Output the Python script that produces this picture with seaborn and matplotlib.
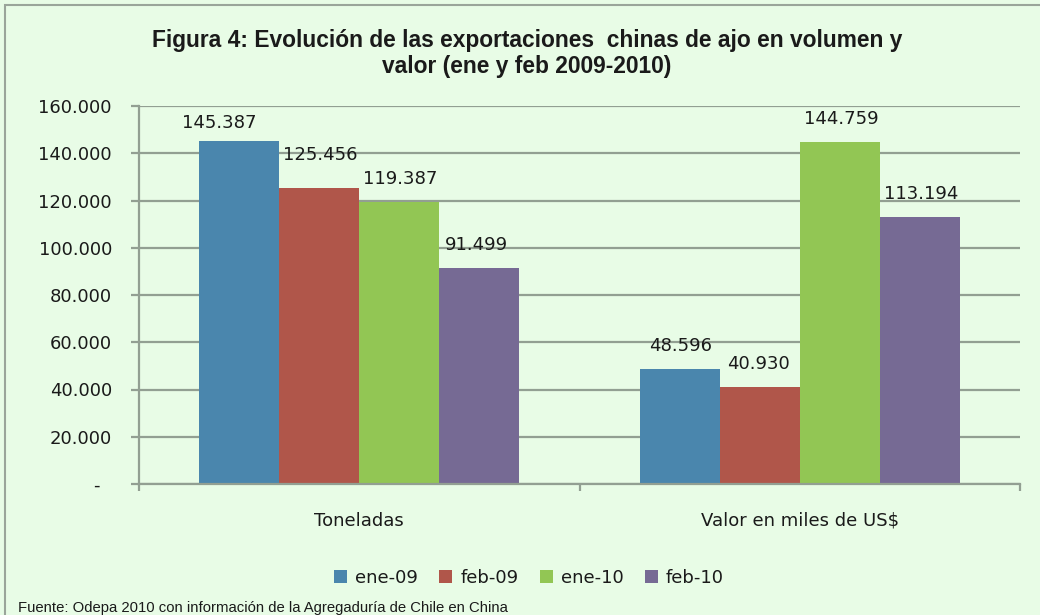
import matplotlib
matplotlib.use("Agg")
import matplotlib.pyplot as plt
import seaborn as sns
import pandas as pd
from matplotlib.patches import Rectangle
from matplotlib.ticker import FixedLocator

# ---- data ----
categories = ["Toneladas", "Valor en miles de US$"]
periods = ["ene-09", "feb-09", "ene-10", "feb-10"]
ene_09 = [145387, 48596]
feb_09 = [125456, 40930]
ene_10 = [119387, 144759]
feb_10 = [91499, 113194]
y_ticks = [0, 20000, 40000, 60000, 80000, 100000, 120000, 140000, 160000]

series = {"ene-09": ene_09, "feb-09": feb_09, "ene-10": ene_10, "feb-10": feb_10}
rows = []
for p in periods:
    for c, v in zip(categories, series[p]):
        rows.append({"cat": c, "periodo": p, "valor": v})
df = pd.DataFrame(rows)

colors = ["#4A86AD", "#B0564A", "#92C654", "#766A94"]
bg = "#E8FCE6"
gridc = "#929F92"

sns.set_theme(style="white")
plt.rcParams["font.family"] = ["DejaVu Sans"]

fig = plt.figure(figsize=(10.4, 6.15), dpi=100, facecolor=bg)
ax = fig.add_axes([139 / 1040, 131 / 615, 881 / 1040, 378 / 615])
ax.set_facecolor(bg)

sns.barplot(data=df, x="cat", y="valor", hue="periodo", hue_order=periods,
            order=categories, palette=colors, width=0.727, gap=0,
            saturation=1, edgecolor="none", linewidth=0, ax=ax, legend=True)

ax.set_xlim(-0.5, 1.5)
ax.set_ylim(0, 160000)
ax.yaxis.set_major_locator(FixedLocator(y_ticks))
ax.set_yticklabels([("-  " if t == 0 else f"{t:,.0f}".replace(",", ".")) for t in y_ticks],
                   fontsize=13, color="#1a1a1a")
ax.grid(axis="y", color=gridc, linewidth=1.6)
ax.set_axisbelow(True)
for s in ["top", "right"]:
    ax.spines[s].set_visible(False)
for s in ["left", "bottom"]:
    ax.spines[s].set_color(gridc)
    ax.spines[s].set_linewidth(1.6)

ax.tick_params(axis="y", which="major", left=True, length=6, width=1.6, color=gridc, pad=13.5)
ax.tick_params(axis="x", which="major", bottom=False, length=0, pad=20, labelsize=13,
               labelcolor="#1a1a1a")
ax.xaxis.set_minor_locator(FixedLocator([-0.5, 0.5, 1.5]))
ax.tick_params(axis="x", which="minor", bottom=True, length=5, width=1.6, color=gridc)
ax.set_xlabel("")
ax.set_ylabel("")

# data labels (small per-label nudges in points, as placed in the original)
nud = {(0, 0): (-14, -4), (1, 0): (1, 7), (2, 0): (1, 0), (3, 0): (-2, 0),
       (0, 1): (1, 0), (1, 1): (-1, 0), (2, 1): (1, 0), (3, 1): (1, 0)}
for hi, cont in enumerate(ax.containers):
    for ci, bar in enumerate(cont):
        h = bar.get_height()
        dx, dy = nud.get((hi, ci), (0, 0))
        ax.annotate(f"{h:,.0f}".replace(",", "."),
                    xy=(bar.get_x() + bar.get_width() / 2, h),
                    xytext=(dx, 10 + dy), textcoords="offset points",
                    ha="center", va="bottom", fontsize=13, color="#1a1a1a")

# legend
handles, labels = ax.get_legend_handles_labels()
ax.get_legend().remove()
fig.legend(handles, labels, loc="center", bbox_to_anchor=(529 / 1040, 37 / 615),
           ncol=4, frameon=False, fontsize=13, handlelength=0.7, handleheight=0.7,
           handletextpad=0.45, columnspacing=1.2, labelcolor="#1a1a1a")

# title
fig.text(527 / 1040, 1 - 40 / 615,
         "Figura 4: Evolución de las exportaciones  chinas de ajo en volumen y",
         ha="center", va="center", fontsize=16.4, fontweight="bold",
         family=["Liberation Sans"], color="#1a1a1a")
fig.text(527 / 1040, 1 - 66 / 615, "valor (ene y feb 2009-2010)",
         ha="center", va="center", fontsize=16.4, fontweight="bold",
         family=["Liberation Sans"], color="#1a1a1a")

# footnote
fig.text(18 / 1040, 7 / 615,
         "Fuente: Odepa 2010 con información de la Agregaduría de Chile en China",
         ha="left", va="center", fontsize=10.7,
         family=["Liberation Sans Narrow", "Liberation Sans"], color="#1a1a1a")

# border
fig.patches.append(Rectangle((5 / 1040, -0.1), 1.2, 1 - 5 / 615 + 0.1,
                             transform=fig.transFigure, fill=False,
                             edgecolor="#9AA59A", linewidth=1.5))

fig.savefig("out.png", dpi=100, facecolor=bg)
